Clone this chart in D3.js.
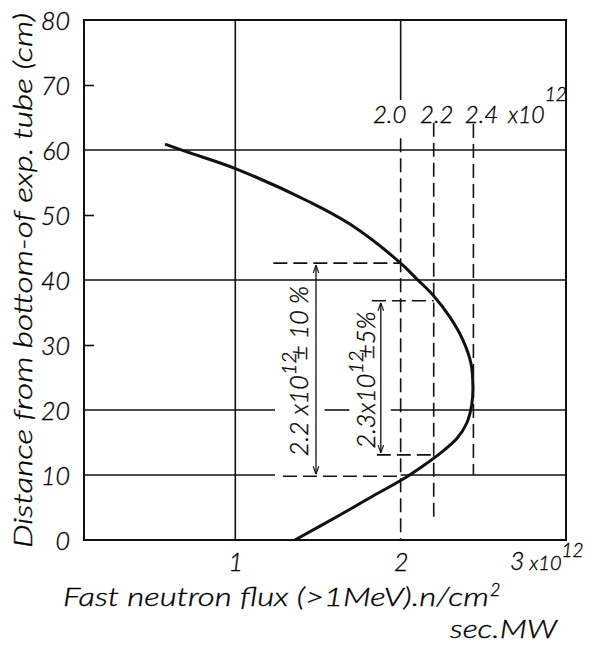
<!DOCTYPE html>
<html>
<head>
<meta charset="utf-8">
<script src="https://cdn.jsdelivr.net/npm/d3@7"></script>
<style>
  html, body { margin: 0; padding: 0; background: #fff; }
  svg text { font-family: "Lato", "DejaVu Sans", sans-serif; font-style: italic; font-weight: 300; fill: #000; stroke: #000; stroke-width: 0.35px; }
</style>
</head>
<body>
<div id="chart"></div>
<script>
// flux profile along the tube (x in 1e12 n/cm2 sec MW, y in cm)
const fluxValues = [0.575, 0.708, 1.004, 1.45, 1.693, 2.0, 2.1, 2.195, 2.298, 2.376, 2.425, 2.437, 2.43, 2.40, 2.34, 2.237, 2.135, 2.01, 1.814, 1.633, 1.36];
const heightValues = [60.9, 59.7, 57.1, 52.0, 48.6, 42.6, 40.1, 37.7, 34.3, 30.8, 27.2, 23.5, 20.8, 18.0, 15.6, 13.3, 11.4, 9.3, 6.5, 3.85, 0];

const yTickValues = [0, 10, 20, 30, 40, 50, 60, 70, 80];
const yMinorTicks = [30, 50, 70];
const xTickValues = [1, 2];

// reference flux levels (dashed verticals): value, label, top, bottom (cm)
const refFlux = [2.0, 2.2, 2.44];
const refLabels = ['2.0', '2.2', '2.4'];
const refTop = [61.8, 64.2, 64.0];
const refBottom = [0, 3.5, 10];

// ranges marked with arrows
const rangeTop = [42.6, 36.8];
const rangeBottom = [9.8, 13.1];
const rangeFlux = [2.0, 2.2];
const rangeLabels = [['2.2 x10', '12', '± 10 %'], ['2.3x10', '12', '±5%']];

const W = 591, H = 648;
const x = d3.scaleLinear().domain([0.085, 3]).range([84, 566]);
const y = d3.scaleLinear().domain([0, 80]).range([540, 20]);

const svg = d3.select('#chart').append('svg')
  .attr('width', W).attr('height', H);

svg.append('defs').append('marker')
  .attr('id', 'arr')
  .attr('viewBox', '0 0 10 10')
  .attr('refX', 10).attr('refY', 5)
  .attr('markerWidth', 8).attr('markerHeight', 8)
  .attr('markerUnits', 'userSpaceOnUse')
  .attr('orient', 'auto-start-reverse')
  .append('path')
    .attr('d', 'M0,1.5 L10,5 L0,8.5')
    .attr('fill', 'none')
    .attr('stroke', '#111')
    .attr('stroke-width', 1.4);

const ink = '#111';
const grid = svg.append('g').attr('stroke', ink).attr('stroke-width', 1.6).attr('fill', 'none');

// horizontal grid lines (some are broken around the notes)
const hSegments = [
  [60, 0.085, 3], [40, 0.085, 3],
  [20, 0.085, 1.24], [20, 1.54, 1.69], [20, 1.94, 3],
  [10, 0.085, 1.24], [10, 2.0, 3]
];
grid.selectAll('.h').data(hSegments).enter().append('line')
  .attr('x1', d => x(d[1])).attr('x2', d => x(d[2]))
  .attr('y1', d => y(d[0])).attr('y2', d => y(d[0]));

// vertical grid lines
grid.append('line').attr('x1', x(1)).attr('x2', x(1)).attr('y1', y(80)).attr('y2', y(0));
grid.append('line').attr('x1', x(2)).attr('x2', x(2)).attr('y1', y(80)).attr('y2', y(67.7));

// frame
svg.append('rect')
  .attr('x', x(0.085)).attr('y', y(80))
  .attr('width', x(3) - x(0.085)).attr('height', y(0) - y(80))
  .attr('fill', 'none').attr('stroke', ink).attr('stroke-width', 2);

// y axis labels
const yAxis = svg.append('g').attr('transform', `translate(${x(0.085)},0)`)
  .call(d3.axisLeft(y).tickValues(yTickValues).tickSize(0).tickPadding(14));
yAxis.select('.domain').remove();
yAxis.selectAll('text').style('font-size', '25px').attr('dy', '0.36em');

// short inner ticks
const yMinor = svg.append('g').attr('transform', `translate(${x(0.085)},0)`)
  .call(d3.axisRight(y).tickValues(yMinorTicks).tickSize(10).tickFormat(''));
yMinor.select('.domain').remove();
yMinor.selectAll('line').attr('stroke', ink).attr('stroke-width', 1.6);

// x axis labels
const xAxis = svg.append('g').attr('transform', `translate(0,${y(0)})`)
  .call(d3.axisBottom(x).tickValues(xTickValues).tickFormat(d3.format('d')).tickSize(0).tickPadding(13));
xAxis.select('.domain').remove();
xAxis.selectAll('text').style('font-size', '25px');

const lab3 = svg.append('text').attr('x', 510).attr('y', 570).style('font-size', '25px');
lab3.append('tspan').text('3');
lab3.append('tspan').style('font-size', '20px').text(' x10');
lab3.append('tspan').attr('dy', -13).style('font-size', '19px').text('12');

// dashed reference lines
const dashed = svg.append('g').attr('stroke', ink).attr('stroke-width', 1.6)
  .attr('stroke-dasharray', '14,6').attr('fill', 'none');
dashed.selectAll('.ref').data(refFlux).enter().append('line')
  .attr('x1', d => x(d)).attr('x2', d => x(d))
  .attr('y1', (d, i) => y(refTop[i])).attr('y2', (d, i) => y(refBottom[i]));

const refShift = [-11, 3, 8];
svg.selectAll('.reflab').data(refLabels).enter().append('text')
  .attr('x', (d, i) => x(refFlux[i]) + refShift[i])
  .attr('y', 123)
  .attr('text-anchor', 'middle')
  .style('font-size', '24px')
  .text(d => d);
const lab10 = svg.append('text').attr('x', 508).attr('y', 123).style('font-size', '23px');
lab10.append('tspan').text('x10');
lab10.append('tspan').attr('dy', -22).style('font-size', '19px').text('12');

// range brackets
const rangeStart = [[1.23, 1.288], [1.826, 1.856]];
const rangeArrowX = [1.488, 1.88];
rangeFlux.forEach((f, i) => {
  dashed.append('line')
    .attr('x1', x(rangeStart[i][0])).attr('x2', x(f))
    .attr('y1', y(rangeTop[i])).attr('y2', y(rangeTop[i]));
  dashed.append('line')
    .attr('x1', x(rangeStart[i][1])).attr('x2', x(f))
    .attr('y1', y(rangeBottom[i])).attr('y2', y(rangeBottom[i]));
  svg.append('line')
    .attr('x1', x(rangeArrowX[i])).attr('x2', x(rangeArrowX[i]))
    .attr('y1', y(rangeBottom[i]) - 2).attr('y2', y(rangeTop[i]) + 2)
    .attr('stroke', ink).attr('stroke-width', 1.3)
    .attr('marker-start', 'url(#arr)').attr('marker-end', 'url(#arr)');
});

// rotated range notes
const noteX = [308, 375];
const noteY = [371, 380];
rangeLabels.forEach((parts, i) => {
  const t = svg.append('text')
    .attr('transform', `translate(${noteX[i]},${noteY[i]}) rotate(-90)`)
    .attr('text-anchor', 'middle')
    .style('font-size', '25px');
  t.append('tspan').text(parts[0]);
  t.append('tspan').attr('dy', -12).style('font-size', '20px').text(parts[1]);
  t.append('tspan').attr('dy', 12).attr('dx', -8).text(parts[2]);
});

// flux curve
const pts = fluxValues.map((v, i) => [v, heightValues[i]]);
svg.append('path')
  .datum(pts)
  .attr('fill', 'none')
  .attr('stroke', ink)
  .attr('stroke-width', 3)
  .attr('d', d3.line().x(d => x(d[0])).y(d => y(d[1])).curve(d3.curveCatmullRom.alpha(0.5)));

// axis titles
svg.append('text')
  .attr('transform', 'translate(32,548) rotate(-90)')
  .attr('textLength', 535).attr('lengthAdjust', 'spacingAndGlyphs')
  .style('font-size', '26px')
  .text('Distance from bottom-of exp. tube (cm)');

svg.append('text')
  .attr('x', 63).attr('y', 606)
  .attr('textLength', 426).attr('lengthAdjust', 'spacingAndGlyphs')
  .style('font-size', '26px')
  .text('Fast neutron flux (>1MeV).n/cm');
svg.append('text').attr('x', 490).attr('y', 596).style('font-size', '18px').text('2');

svg.append('text')
  .attr('x', 450).attr('y', 638)
  .attr('textLength', 107).attr('lengthAdjust', 'spacingAndGlyphs')
  .style('font-size', '26px')
  .text('sec.MW');
</script>
</body>
</html>
